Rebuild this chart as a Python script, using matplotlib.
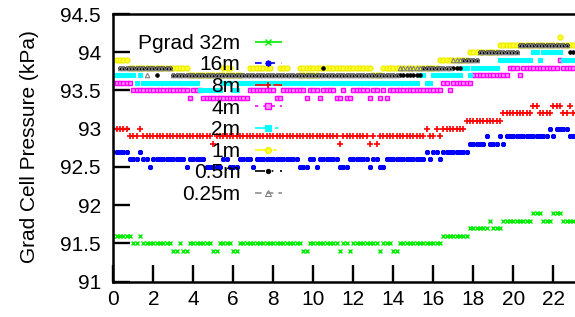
import numpy as np
import matplotlib
matplotlib.use("Agg")
import matplotlib.pyplot as plt
from matplotlib.lines import Line2D

plt.rcParams['font.family'] = ['Liberation Sans', 'DejaVu Sans']

# ---- data: runs of (start hour, end hour, pressure kPa), sampled every 10 min ----
step_h = 1.0 / 6.0

p32 = [(0.0, 0.85, 91.6), (0.85, 1.3, 91.5), (1.3, 1.45, 91.6), (1.45, 2.35, 91.5),
       (2.35, 2.5, 91.6), (2.5, 3.0, 91.5), (3.0, 3.17, 91.4), (3.17, 3.5, 91.5),
       (3.5, 3.67, 91.4), (3.67, 5.0, 91.5), (5.0, 5.33, 91.4), (5.33, 6.0, 91.5),
       (6.0, 6.33, 91.4), (6.33, 9.4, 91.5), (9.4, 9.67, 91.4), (9.67, 11.2, 91.5),
       (11.2, 11.5, 91.4), (11.5, 11.83, 91.5), (11.83, 12.0, 91.4), (12.0, 12.17, 91.5),
       (12.17, 12.33, 91.4), (12.33, 13.33, 91.5), (13.33, 13.5, 91.4), (13.5, 13.67, 91.5),
       (13.67, 13.83, 91.4), (13.83, 14.0, 91.5), (14.0, 14.17, 91.4), (14.17, 16.17, 91.5),
       (16.17, 16.33, 91.6), (16.33, 16.5, 91.5), (16.5, 16.67, 91.6), (16.67, 16.83, 91.5),
       (16.83, 17.67, 91.6), (17.67, 18.83, 91.7), (18.83, 19.0, 91.8), (19.0, 19.5, 91.7),
       (19.5, 20.9, 91.8), (20.9, 21.5, 91.9), (21.5, 22.0, 91.8), (22.0, 22.5, 91.9),
       (22.5, 23.2, 91.8)]

p16 = [(0.0, 0.42, 92.7), (0.42, 0.5, 92.6), (0.5, 0.83, 92.7), (0.83, 1.17, 92.6),
       (1.17, 1.4, 92.7), (1.4, 1.75, 92.6), (1.75, 1.9, 92.5), (1.9, 2.85, 92.6),
       (2.85, 3.0, 92.5), (3.0, 3.55, 92.6), (3.55, 3.7, 92.5), (3.7, 4.6, 92.6),
       (4.6, 5.5, 92.5), (5.5, 5.67, 92.6), (5.67, 6.3, 92.5), (6.3, 6.9, 92.6),
       (6.9, 7.05, 92.5), (7.05, 9.33, 92.6), (9.33, 9.83, 92.5), (9.83, 10.1, 92.6),
       (10.1, 10.25, 92.5), (10.25, 11.25, 92.6), (11.25, 11.83, 92.5), (11.83, 12.17, 92.6),
       (12.17, 12.33, 92.5), (12.33, 12.8, 92.6), (12.8, 13.0, 92.5), (13.0, 13.17, 92.6),
       (13.17, 13.58, 92.5), (13.58, 15.58, 92.6), (15.58, 15.8, 92.7), (15.8, 15.9, 92.6),
       (15.9, 16.3, 92.7), (16.3, 16.45, 92.6), (16.45, 17.75, 92.7), (17.75, 18.58, 92.8),
       (18.58, 18.75, 92.9), (18.75, 19.3, 92.8), (19.3, 19.45, 92.9), (19.45, 19.6, 92.8),
       (19.6, 21.75, 92.9), (21.75, 21.9, 93.0), (21.9, 22.05, 92.9), (22.05, 22.75, 93.0),
       (22.75, 23.2, 92.9)]

p8 = [(0.0, 0.83, 93.0), (0.83, 1.2, 92.9), (1.2, 1.35, 93.0), (1.35, 5.0, 92.9),
      (5.0, 5.15, 92.8), (5.15, 11.33, 92.9), (11.33, 11.5, 92.8), (11.5, 12.8, 92.9),
      (12.8, 12.95, 92.8), (12.95, 13.1, 92.9), (13.1, 13.3, 92.8), (13.3, 15.6, 92.9),
      (15.6, 15.75, 93.0), (15.75, 16.1, 92.9), (16.1, 16.25, 93.0), (16.25, 16.45, 92.9),
      (16.45, 17.58, 93.0), (17.58, 19.4, 93.1), (19.4, 21.0, 93.2), (21.0, 21.17, 93.3),
      (21.17, 21.9, 93.2), (21.9, 22.5, 93.3), (22.5, 22.7, 93.2), (22.7, 22.85, 93.3),
      (22.85, 23.2, 93.2)]

p4 = [(0.0, 0.67, 93.6), (0.67, 0.83, 93.5), (0.83, 1.0, 93.6), (1.0, 3.75, 93.5),
      (3.75, 4.0, 93.4), (4.0, 4.4, 93.5), (4.4, 6.75, 93.4), (6.75, 8.08, 93.5),
      (8.08, 8.45, 93.4), (8.45, 9.58, 93.5), (9.58, 9.83, 93.4), (9.83, 10.25, 93.5),
      (10.25, 10.5, 93.4), (10.5, 11.15, 93.5), (11.15, 11.5, 93.4), (11.5, 11.58, 93.5),
      (11.58, 11.92, 93.4), (11.92, 12.17, 93.5), (12.17, 12.33, 93.4), (12.33, 12.75, 93.5),
      (12.75, 12.92, 93.4), (12.92, 13.25, 93.5), (13.25, 13.4, 93.4), (13.4, 13.6, 93.5),
      (13.6, 13.75, 93.4), (13.75, 16.5, 93.5), (16.5, 16.75, 93.6), (16.75, 16.92, 93.5),
      (16.92, 17.92, 93.6), (17.92, 19.67, 93.7), (19.67, 20.17, 93.8), (20.17, 20.4, 93.7),
      (20.4, 22.17, 93.8), (22.17, 22.4, 93.9), (22.4, 23.2, 93.8)]

p2 = [(0.0, 1.1, 93.7), (1.1, 1.17, 93.6), (1.17, 1.35, 93.7), (1.35, 4.3, 93.6),
      (4.3, 5.4, 93.5), (5.4, 5.9, 93.6), (5.9, 6.33, 93.5), (6.33, 15.33, 93.6),
      (15.33, 15.58, 93.7), (15.58, 16.0, 93.6), (16.0, 17.5, 93.7), (17.5, 17.75, 93.8),
      (17.75, 17.92, 93.7), (17.92, 19.17, 93.8), (19.17, 21.0, 93.9), (21.0, 21.17, 94.0),
      (21.17, 21.5, 93.9), (21.5, 21.75, 94.0), (21.75, 21.83, 93.9), (21.83, 22.5, 94.0),
      (22.5, 23.2, 93.9)]

p1 = [(0.0, 0.7, 93.9), (0.7, 3.8, 93.8), (3.75, 6.5, 93.7), (5.5, 5.9, 93.8),
      (6.75, 8.0, 93.8), (8.2, 8.8, 93.8), (9.3, 10.2, 93.8), (9.3, 10.2, 93.7),
      (10.3, 12.95, 93.8), (13.0, 13.35, 93.7), (13.4, 16.33, 93.8), (16.33, 17.67, 93.9),
      (17.67, 19.17, 94.0), (19.17, 22.17, 94.1), (22.17, 22.5, 94.2), (22.5, 23.2, 94.1)]

p05 = [(0.3, 2.9, 93.8), (2.15, 2.3, 93.7), (2.9, 14.8, 93.7), (10.45, 10.6, 93.8),
       (14.35, 14.5, 93.8), (14.8, 15.5, 93.7), (15.5, 17.5, 93.8), (17.5, 18.2, 93.9),
       (18.2, 20.3, 94.0), (20.3, 22.75, 94.1), (22.75, 23.2, 94.0)]

p025 = [(0.3, 2.9, 93.8), (1.6, 1.75, 93.7), (2.9, 14.3, 93.7), (14.3, 17.0, 93.8),
        (17.0, 18.2, 93.9), (18.2, 20.33, 94.0), (20.33, 22.75, 94.1)]

labels = ['Pgrad 32m', '16m', '8m', '4m', '2m', '1m', '0.5m', '0.25m']
xticks = [0, 2, 4, 6, 8, 10, 12, 14, 16, 18, 20, 22]
yticks = [91, 91.5, 92, 92.5, 93, 93.5, 94, 94.5]
ytick_labels = ['91', '91.5', '92', '92.5', '93', '93.5', '94', '94.5']

series = [p32, p16, p8, p4, p2, p1, p05, p025]
styles = [
    dict(color='#00ee00', marker='x', ms=3.2, mew=1.0, mfc='#00ee00', mec='#00ee00', ls=(0, ())),
    dict(color='#0000ff', marker=(8, 2, 0), ms=3.6, mew=1.2, mfc='#0000ff', mec='#0000ff', ls=(0, (4, 4))),
    dict(color='#ff0000', marker='+', ms=3.8, mew=1.2, mfc='#ff0000', mec='#ff0000', ls=(0, (6, 2, 1, 2))),
    dict(color='#ff00ff', marker='s', ms=3.2, mew=1.0, mfc='#ff99ff', mec='#ff00ff', ls=(0, (2, 3))),
    dict(color='#00ffff', marker='s', ms=3.4, mew=0.8, mfc='#00ffff', mec='#00ffff', ls=(0, (9, 3, 2, 3))),
    dict(color='#ffff00', marker='o', ms=3.6, mew=0.9, mfc='#ffff33', mec='#eeee00', ls=(0, (8, 3, 2, 3))),
    dict(color='#000000', marker='o', ms=2.6, mew=0.6, mfc='#000000', mec='#000000', ls=(0, (6, 4, 1, 4))),
    dict(color='#909090', marker='^', ms=3.2, mew=0.8, mfc='none', mec='#808080', ls=(0, (4, 3))),
]

fig = plt.figure(figsize=(5.75, 3.17), dpi=100)
ax = fig.add_axes([113.3 / 575, 35.3 / 317, 480 / 575, 267.7 / 317])

grid = np.arange(0, 23.25, step_h)
for runs, st in zip(series, styles):
    xs, ys = [], []
    for t0, t1, v in runs:
        sel = grid[(grid >= t0 - 1e-9) & (grid < t1 - 1e-9)]
        xs.extend(sel)
        ys.extend([v] * len(sel))
    ax.plot(xs, ys, ls='none', marker=st['marker'], ms=st['ms'], mew=st['mew'],
            mfc=st['mfc'], mec=st['mec'], clip_on=True)

handles = [Line2D([], [], color=st['color'], lw=1.2, ls=st['ls'], marker=st['marker'],
                  ms=st['ms'] + 0.6, mew=st['mew'], mfc=st['mfc'], mec=st['mec'])
           for st in styles]
leg = ax.legend(handles, labels, loc='upper right', bbox_to_anchor=(0.3515, 0.926),
                markerfirst=False, frameon=False, fontsize=15, borderpad=0,
                borderaxespad=0, handlelength=1.3, handletextpad=0.7,
                labelspacing=0.125, numpoints=1)

ax.set_xlim(0, 24)
ax.set_ylim(91, 94.5)
ax.set_xticks(xticks)
ax.set_xticklabels([str(v) for v in xticks])
ax.set_yticks(yticks)
ax.set_yticklabels(ytick_labels)
ax.tick_params(direction='in', length=12, width=1.7, labelsize=15, colors='black')
ax.tick_params(axis='y', pad=9)
ax.tick_params(axis='x', pad=6)
ax.tick_params(top=False, right=False)
for s in ax.spines.values():
    s.set_linewidth(1.8)

ax.set_ylabel('Grad Cell Pressure (kPa)', fontsize=15)
ax.yaxis.set_label_coords(-0.155, 0.505)

fig.savefig('out.png', dpi=100)
